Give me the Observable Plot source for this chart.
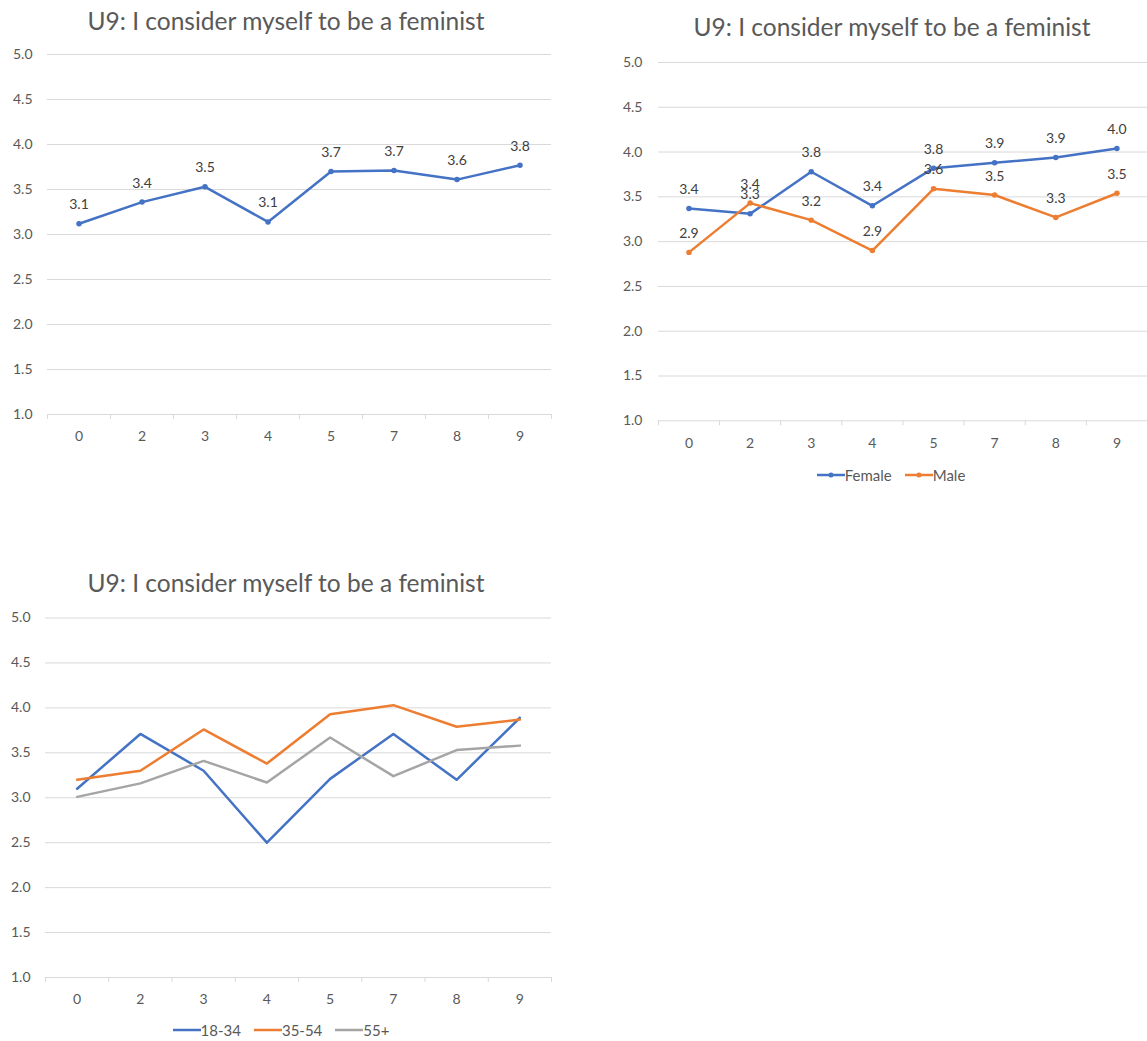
<!DOCTYPE html>
<html><head><meta charset="utf-8">
<script src="https://cdn.jsdelivr.net/npm/d3@7"></script>
<script src="https://cdn.jsdelivr.net/npm/@observablehq/plot@0.6"></script>
<style>
html,body{margin:0;padding:0;background:#fff;overflow:hidden;width:1147px;height:1041px;}
body{position:relative;font-family:Lato,sans-serif;}
.title{position:absolute;font-size:24.5px;color:#595959;text-align:center;line-height:26px;white-space:nowrap;}
.chart{position:absolute;}
.legend{position:absolute;display:flex;justify-content:center;align-items:center;gap:13px;font-size:15px;color:#595959;line-height:16px;}
.item{display:flex;align-items:center;}
</style></head><body>
<script>
const categories = ["0","2","3","4","5","7","8","9"];
const yTicks = [1.0,1.5,2.0,2.5,3.0,3.5,4.0,4.5,5.0];
const overall = [3.12,3.36,3.53,3.14,3.70,3.71,3.61,3.77];
const female = [3.37,3.31,3.78,3.40,3.82,3.88,3.94,4.04];
const male = [2.88,3.43,3.24,2.90,3.59,3.52,3.27,3.54];
const age1834 = [3.10,3.71,3.30,2.50,3.21,3.71,3.20,3.89];
const age3554 = [3.20,3.30,3.76,3.38,3.93,4.03,3.79,3.87];
const age55 = [3.01,3.16,3.41,3.17,3.67,3.24,3.53,3.58];
const titleText = "U9: I consider myself to be a feminist";
const BLUE = "#4472C4", ORANGE = "#ED7D31", GRAY = "#A5A5A5";

function addTitle(cx, cy) {
  const d = document.createElement("div");
  d.className = "title";
  d.textContent = titleText;
  d.style.left = (cx - 300) + "px";
  d.style.width = "600px";
  d.style.top = (cy - 13) + "px";
  document.body.appendChild(d);
}

function addLegend(cx, cy, items, markers) {
  const d = document.createElement("div");
  d.className = "legend";
  d.style.left = (cx - 200) + "px";
  d.style.width = "400px";
  d.style.top = (cy - 8) + "px";
  for (const it of items) {
    const el = document.createElement("div");
    el.className = "item";
    el.innerHTML = `<svg width="28" height="10"><line x1="0" x2="28" y1="5" y2="5" stroke="${it.color}" stroke-width="2.5"/>` +
      (markers ? `<circle cx="14" cy="5" r="2.5" fill="${it.color}"/>` : "") + `</svg><span>${it.name}</span>`;
    d.appendChild(el);
  }
  document.body.appendChild(d);
}

function makeChart(o) {
  const marks = [
    Plot.ruleY(yTicks, {stroke: "#D9D9D9", strokeWidth: 1}),
    Plot.axisY(yTicks, {tickSize: 0, tickPadding: o.pad, tickFormat: d => d.toFixed(1), fontSize: 14}),
    Plot.axisX(d3.range(9).map(k => k - 0.5), {tickSize: 5, stroke: "#D9D9D9", tickFormat: () => ""}),
    Plot.axisX(d3.range(categories.length), {tickSize: 0, tickPadding: 17, tickFormat: i => categories[i], fontSize: 14})
  ];
  for (const s of o.series) {
    const rows = s.values.map((v, i) => ({i, v, cat: categories[i]}));
    marks.push(Plot.line(rows, {x: "i", y: "v", stroke: s.color, strokeWidth: 2.5}));
    if (o.markers) marks.push(Plot.dot(rows, {x: "i", y: "v", r: 2.75, fill: s.color}));
    if (o.labels) marks.push(Plot.text(rows, {x: "i", y: "v", text: d => d.v.toFixed(1), dy: -19, fill: "#404040", fontSize: 14}));
  }
  const svg = Plot.plot({
    width: o.width, height: o.height,
    marginTop: o.mt, marginBottom: o.mb, marginLeft: o.ml, marginRight: o.mr,
    x: {type: "linear", domain: [-0.5, categories.length - 0.5], label: null},
    y: {domain: [1, 5], label: null},
    style: {fontFamily: "Lato, sans-serif", fontSize: "14px", color: "#595959", background: "transparent", overflow: "visible"},
    marks
  });
  const wrap = document.createElement("div");
  wrap.className = "chart";
  wrap.style.left = o.left + "px";
  wrap.style.top = o.top + "px";
  wrap.appendChild(svg);
  document.body.appendChild(wrap);
}

// Chart 1: overall
addTitle(286, 21);
makeChart({left: 0, top: 40, width: 561, height: 414, mt: 14, mb: 40, ml: 47, mr: 10, pad: 15,
  series: [{name: "All", values: overall, color: BLUE}], markers: true, labels: true});

// Chart 2: by gender
addTitle(892, 27);
makeChart({left: 600, top: 40, width: 548, height: 421, mt: 22, mb: 40, ml: 58, mr: 0, pad: 16,
  series: [{name: "Female", values: female, color: BLUE}, {name: "Male", values: male, color: ORANGE}], markers: true, labels: true});
addLegend(891, 475, [{name: "Female", color: BLUE}, {name: "Male", color: ORANGE}], true);

// Chart 3: by age
addTitle(286, 583);
makeChart({left: 0, top: 600, width: 561, height: 417, mt: 17.5, mb: 40, ml: 45, mr: 10, pad: 15,
  series: [{name: "18-34", values: age1834, color: BLUE}, {name: "35-54", values: age3554, color: ORANGE}, {name: "55+", values: age55, color: GRAY}], markers: false, labels: false});
addLegend(281, 1030, [{name: "18-34", color: BLUE}, {name: "35-54", color: ORANGE}, {name: "55+", color: GRAY}], false);
</script>
</body></html>
